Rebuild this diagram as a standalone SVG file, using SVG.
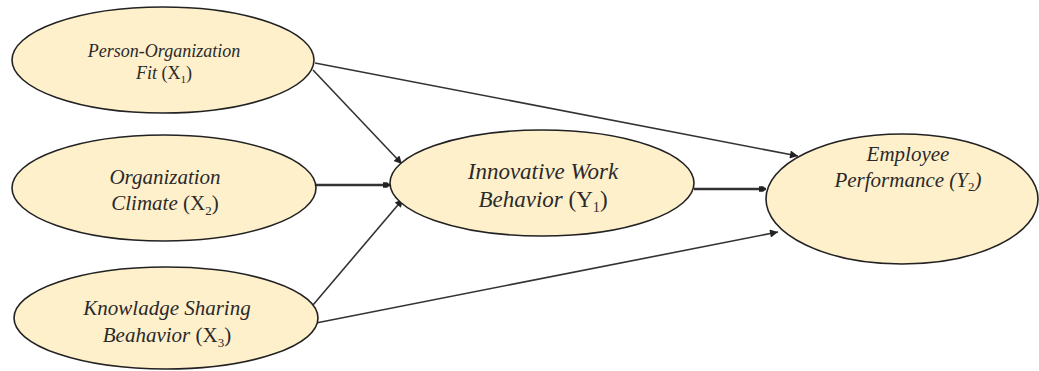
<svg xmlns="http://www.w3.org/2000/svg" width="1039" height="371" viewBox="0 0 1039 371">
  <style>
    .node ellipse { fill: #fff0cc; stroke: #222; stroke-width: 1.6; }
    .lbl { font-family: "Liberation Serif", "Times New Roman", serif; fill: #2a2a2a; text-anchor: middle; }
    .it { font-style: italic; }
    .up { font-style: normal; }
    .sub { font-size: 62%; font-style: normal; }
    .edge { stroke: #333; stroke-width: 1.6; fill: none; marker-end: url(#head); }
    .edge.thick { stroke-width: 2.6; marker-end: url(#headBox); }
  </style>
  <defs>
    <marker id="head" viewBox="0 0 10 10" refX="10" refY="5" markerWidth="10" markerHeight="8" markerUnits="userSpaceOnUse" orient="auto">
      <path d="M0,0 L10,5 L0,10 z" fill="#222"/>
    </marker>
    <marker id="headBox" viewBox="0 0 10 10" refX="10" refY="5" markerWidth="10" markerHeight="7" markerUnits="userSpaceOnUse" orient="auto">
      <path d="M0,1 L6,1 L10,5 L6,9 L0,9 z" fill="#222"/>
    </marker>
  </defs>

  <!-- connectors -->
  <g id="connectors">
    <line class="edge" x1="315" y1="63" x2="798" y2="156"/>
    <line class="edge" x1="313" y1="70" x2="402" y2="164"/>
    <line class="edge thick" x1="316" y1="185" x2="390" y2="185"/>
    <line class="edge" x1="313" y1="305" x2="403" y2="199"/>
    <line class="edge" x1="316" y1="323" x2="778" y2="232"/>
    <line class="edge thick" x1="694" y1="189" x2="766" y2="189"/>
  </g>

  <!-- exogenous constructs -->
  <g id="x1" class="node">
    <ellipse cx="163" cy="60" rx="151" ry="53"/>
    <text class="lbl it" x="164" y="57" font-size="18">Person-Organization</text>
    <text class="lbl" x="164" y="79" font-size="18"><tspan class="it">Fit</tspan> <tspan class="up">(X</tspan><tspan class="sub" dy="4">1</tspan><tspan class="up" dy="-4">)</tspan></text>
  </g>

  <g id="x2" class="node">
    <ellipse cx="164" cy="188" rx="152" ry="53"/>
    <text class="lbl it" x="165" y="184" font-size="21">Organization</text>
    <text class="lbl" x="165" y="210" font-size="21"><tspan class="it">Climate</tspan> <tspan class="up">(X</tspan><tspan class="sub" dy="5">2</tspan><tspan class="up" dy="-5">)</tspan></text>
  </g>

  <g id="x3" class="node">
    <ellipse cx="166" cy="318" rx="152" ry="51"/>
    <text class="lbl it" x="167" y="315" font-size="21">Knowladge Sharing</text>
    <text class="lbl" x="167" y="342" font-size="21"><tspan class="it">Beahavior</tspan> <tspan class="up">(X</tspan><tspan class="sub" dy="5">3</tspan><tspan class="up" dy="-5">)</tspan></text>
  </g>

  <!-- mediator -->
  <g id="y1" class="node">
    <ellipse cx="542" cy="183" rx="152" ry="53"/>
    <text class="lbl it" x="543" y="179" font-size="23">Innovative Work</text>
    <text class="lbl" x="543" y="207" font-size="23"><tspan class="it">Behavior</tspan> <tspan class="up">(Y</tspan><tspan class="sub" dy="5">1</tspan><tspan class="up" dy="-5">)</tspan></text>
  </g>

  <!-- outcome -->
  <g id="y2" class="node">
    <ellipse cx="902" cy="199" rx="136" ry="65"/>
    <text class="lbl it" x="908" y="161" font-size="21">Employee</text>
    <text class="lbl it" x="908" y="187" font-size="21">Performance (Y<tspan class="sub" dy="4">2</tspan><tspan dy="-4">)</tspan></text>
  </g>
</svg>
